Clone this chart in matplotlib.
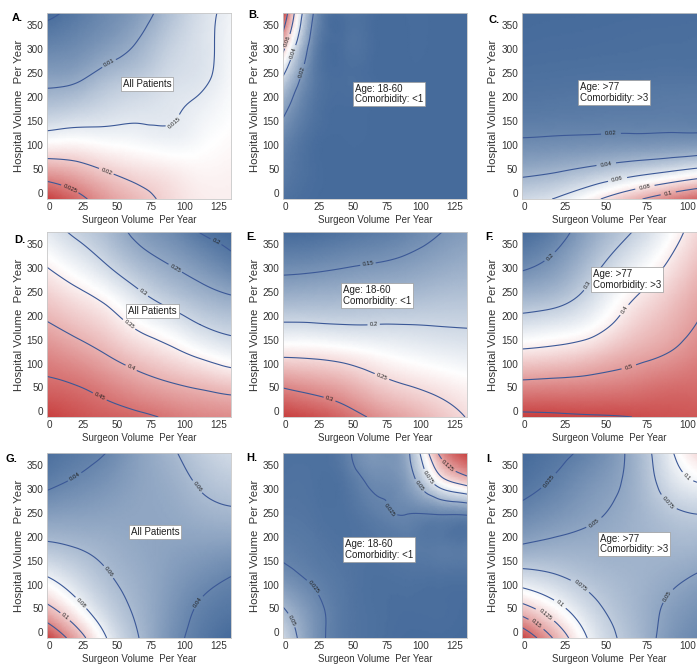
import numpy as np
import matplotlib
matplotlib.use('Agg')
import matplotlib.pyplot as plt
import matplotlib.tri as mtri
from matplotlib.colors import LinearSegmentedColormap

plt.rcParams['font.family'] = ['Liberation Sans', 'DejaVu Sans']

# grid nodes
surgeon_vol = [-2, 21, 43, 66, 89, 111, 134]
hospital_vol = [-12, 53, 117, 182, 247, 311, 376]

# each inner list: one surgeon volume, hospital volume from low to high
rate_a = [[0.029, 0.022, 0.016, 0.0118, 0.0088, 0.0065, 0.0045],
          [0.026, 0.021, 0.0163, 0.0125, 0.0093, 0.0072, 0.0058],
          [0.023, 0.0195, 0.016, 0.0135, 0.011, 0.0085, 0.0072],
          [0.021, 0.0185, 0.0158, 0.0142, 0.0122, 0.0103, 0.0088],
          [0.0192, 0.0178, 0.0155, 0.0147, 0.0138, 0.0128, 0.0115],
          [0.018, 0.0173, 0.0162, 0.0154, 0.0145, 0.0143, 0.014],
          [0.0178, 0.0175, 0.017, 0.0165, 0.0162, 0.016, 0.0158]]
rate_b = [[0.008, 0.011, 0.015, 0.024, 0.041, 0.068, 0.095],
          [0.006, 0.0065, 0.007, 0.009, 0.011, 0.014, 0.019],
          [0.0056, 0.0058, 0.006, 0.0063, 0.0068, 0.0073, 0.0078],
          [0.0056, 0.0057, 0.0058, 0.0059, 0.006, 0.0062, 0.0064],
          [0.0056, 0.0056, 0.0057, 0.0058, 0.0058, 0.0059, 0.006],
          [0.0056, 0.0056, 0.0056, 0.0057, 0.0057, 0.0058, 0.0058],
          [0.0056, 0.0056, 0.0056, 0.0056, 0.0057, 0.0057, 0.0057]]
rate_c = [[0.055, 0.034, 0.0198, 0.013, 0.01, 0.0085, 0.0075],
          [0.062, 0.037, 0.0205, 0.0135, 0.0103, 0.0088, 0.0078],
          [0.077, 0.042, 0.021, 0.014, 0.0107, 0.009, 0.008],
          [0.095, 0.048, 0.0215, 0.0145, 0.011, 0.0093, 0.0083],
          [0.112, 0.054, 0.022, 0.015, 0.0113, 0.0095, 0.0085],
          [0.125, 0.061, 0.0225, 0.0155, 0.0115, 0.0097, 0.0087],
          [0.135, 0.067, 0.023, 0.016, 0.012, 0.01, 0.009]]
rate_d = [[0.49, 0.458, 0.433, 0.403, 0.375, 0.346, 0.318],
          [0.475, 0.45, 0.418, 0.386, 0.356, 0.323, 0.292],
          [0.465, 0.435, 0.4, 0.368, 0.335, 0.297, 0.27],
          [0.457, 0.418, 0.38, 0.342, 0.305, 0.268, 0.24],
          [0.445, 0.405, 0.363, 0.322, 0.28, 0.248, 0.222],
          [0.435, 0.395, 0.345, 0.3, 0.262, 0.23, 0.199],
          [0.43, 0.385, 0.328, 0.287, 0.248, 0.21, 0.188]]
rate_e = [[0.34, 0.297, 0.247, 0.203, 0.167, 0.14, 0.118],
          [0.33, 0.288, 0.245, 0.202, 0.169, 0.142, 0.12],
          [0.315, 0.278, 0.24, 0.2, 0.171, 0.146, 0.125],
          [0.295, 0.262, 0.232, 0.2, 0.174, 0.15, 0.13],
          [0.28, 0.251, 0.225, 0.2, 0.176, 0.155, 0.137],
          [0.265, 0.243, 0.22, 0.199, 0.18, 0.162, 0.148],
          [0.249, 0.235, 0.216, 0.198, 0.182, 0.168, 0.156]]
rate_f = [[0.615, 0.52, 0.42, 0.33, 0.25, 0.185, 0.14],
          [0.61, 0.525, 0.43, 0.345, 0.27, 0.22, 0.18],
          [0.605, 0.53, 0.45, 0.375, 0.325, 0.282, 0.245],
          [0.6, 0.54, 0.48, 0.43, 0.39, 0.345, 0.3],
          [0.59, 0.555, 0.505, 0.47, 0.44, 0.405, 0.37],
          [0.585, 0.56, 0.535, 0.51, 0.49, 0.465, 0.44],
          [0.58, 0.565, 0.55, 0.535, 0.52, 0.505, 0.49]]
rate_g = [[0.14, 0.103, 0.08, 0.062, 0.049, 0.038, 0.032],
          [0.108, 0.084, 0.07, 0.059, 0.05, 0.042, 0.036],
          [0.079, 0.068, 0.061, 0.056, 0.051, 0.046, 0.0405],
          [0.06, 0.057, 0.055, 0.053, 0.052, 0.051, 0.05],
          [0.045, 0.047, 0.049, 0.051, 0.053, 0.055, 0.058],
          [0.036, 0.039, 0.044, 0.05, 0.056, 0.061, 0.066],
          [0.03, 0.035, 0.04, 0.049, 0.058, 0.065, 0.072]]
rate_h = [[0.068, 0.05, 0.031, 0.021, 0.017, 0.015, 0.014],
          [0.033, 0.03, 0.022, 0.018, 0.0155, 0.0145, 0.014],
          [0.018, 0.018, 0.017, 0.015, 0.0145, 0.016, 0.02],
          [0.014, 0.014, 0.014, 0.016, 0.021, 0.027, 0.034],
          [0.012, 0.013, 0.015, 0.019, 0.025, 0.036, 0.044],
          [0.012, 0.013, 0.015, 0.019, 0.025, 0.078, 0.12],
          [0.011, 0.012, 0.015, 0.019, 0.026, 0.105, 0.165]]
rate_i = [[0.2, 0.132, 0.085, 0.051, 0.031, 0.019, 0.013],
          [0.14, 0.104, 0.076, 0.055, 0.04, 0.029, 0.021],
          [0.092, 0.079, 0.066, 0.056, 0.048, 0.041, 0.032],
          [0.066, 0.062, 0.06, 0.058, 0.057, 0.056, 0.056],
          [0.042, 0.047, 0.054, 0.061, 0.07, 0.085, 0.095],
          [0.03, 0.037, 0.047, 0.06, 0.075, 0.1, 0.13],
          [0.022, 0.028, 0.037, 0.05, 0.07, 0.1, 0.14]]

levels_a = [0.005, 0.01, 0.015, 0.02, 0.025]
levels_b = [0.02, 0.04, 0.06, 0.08]
levels_c = [0.02, 0.04, 0.06, 0.08, 0.1]
levels_d = [0.2, 0.25, 0.3, 0.35, 0.4, 0.45]
levels_e = [0.15, 0.2, 0.25, 0.3]
levels_f = [0.2, 0.3, 0.4, 0.5, 0.6]
levels_g = [0.04, 0.06, 0.08, 0.1, 0.12]
levels_h = [0.025, 0.05, 0.075, 0.1, 0.125]
levels_i = [0.025, 0.05, 0.075, 0.1, 0.125, 0.15, 0.175]

letters = ['A.', 'B.', 'C.', 'D.', 'E.', 'F.', 'G.', 'H.', 'I.']
notes = ['All Patients', 'Age: 18-60\nComorbidity: <1', 'Age: >77\nComorbidity: >3'] * 3
x_ticks = [0, 25, 50, 75, 100, 125]
y_ticks = [0, 50, 100, 150, 200, 250, 300, 350]

rates = [rate_a, rate_b, rate_c, rate_d, rate_e, rate_f, rate_g, rate_h, rate_i]
levels = [levels_a, levels_b, levels_c, levels_d, levels_e, levels_f, levels_g, levels_h, levels_i]

# where the contour labels sit (data coords)
label_pos = [
    [(15, 10), (42, 47), (88, 160), (44, 270)],
    [(12, 254), (7, 292), (3, 315)],
    [(53, 127), (50, 63), (57, 30), (74, 12), (88, 3)],
    [(121, 345), (93, 301), (69, 249), (58, 180), (60, 90), (37, 31)],
    [(61, 305), (65, 182), (71, 72), (32, 22)],
    [(14, 328), (35, 271), (58, 218), (62, 109)],
    [(20, 319), (107, 301), (48, 136), (110, 62), (24, 64), (10, 28)],
    [(21, 96), (5, 26), (76, 256), (98, 306), (106, 326), (120, 349)],
    [(17, 313), (43, 229), (35, 100), (22, 60), (13, 38), (8, 20), (87, 270), (98, 321), (85, 81)],
]
# note box anchors (data coords): (x, y, ha)
note_pos = [(72, 227, 'center'), (51, 207, 'left'), (34, 210, 'left'),
            (76, 211, 'center'), (42, 243, 'left'), (42, 277, 'left'),
            (78, 210, 'center'), (44, 173, 'left'), (46, 185, 'left')]

W, H = 697, 665
col_left = [47, 283, 521.5]
col_width = [184, 184, 175.5]
col_xmax = [134, 134, 106]
row_top = [13, 232, 453]
row_height = [186, 185, 185]
letter_px = [(12, 18), (248, 15), (488, 20), (14, 240), (246, 237), (485, 237),
             (6, 459), (246, 458), (486, 459)]

cmap = LinearSegmentedColormap.from_list('soft_bwr', ['#466b9b', '#ffffff', '#c8403f'])

fig = plt.figure(figsize=(W / 100, H / 100), dpi=100)

X, Y = np.meshgrid(surgeon_vol, hospital_vol)
tri = mtri.Triangulation(X.ravel(), Y.ravel())
refiner = mtri.UniformTriRefiner(tri)

for k in range(9):
    r, c = divmod(k, 3)
    ax = fig.add_axes([col_left[c] / W, 1 - (row_top[r] + row_height[r]) / H,
                       col_width[c] / W, row_height[r] / H])
    z = np.array(rates[k]).T
    interp = mtri.CubicTriInterpolator(tri, z.ravel(), kind='min_E')
    tri_f, z_f = refiner.refine_field(z.ravel(), triinterpolator=interp, subdiv=4)
    z_f = np.clip(z_f, z.min(), z.max())

    ax.tripcolor(tri_f, z_f, shading='gouraud', cmap=cmap, rasterized=True)
    cs = ax.tricontour(tri_f, z_f, levels=levels[k], colors='#3b5897', linewidths=0.8)
    ax.clabel(cs, fontsize=4.3, inline=True, inline_spacing=2, fmt=lambda v: f'{v:g}',
              manual=label_pos[k], colors='#222222')

    nx, ny, ha = note_pos[k]
    ax.text(nx, ny, notes[k], ha=ha, va='center', fontsize=7, color='#222222',
            linespacing=1.1,
            bbox=dict(boxstyle='square,pad=0.2', fc='white', ec='#9a9a9a', lw=0.5))

    ax.set_xlim(-2, col_xmax[c])
    ax.set_ylim(-12, 376)
    ax.set_xticks([t for t in x_ticks if t <= col_xmax[c]])
    ax.set_yticks(y_ticks)
    ax.tick_params(length=0, pad=2.5, labelsize=7.2, colors='#333333')
    for s in ax.spines.values():
        s.set_color('#c8c8c8')
        s.set_linewidth(0.6)
    ax.set_xlabel('Surgeon Volume  Per Year', fontsize=7, color='#333333', labelpad=1.5)
    ax.set_ylabel('Hospital Volume  Per Year', fontsize=8.2, color='#333333', labelpad=2)

    lx, ly = letter_px[k]
    fig.text(lx / W, 1 - ly / H, letters[k], fontsize=8, fontweight='bold', va='center', ha='left')

fig.savefig('out.png', dpi=100)
